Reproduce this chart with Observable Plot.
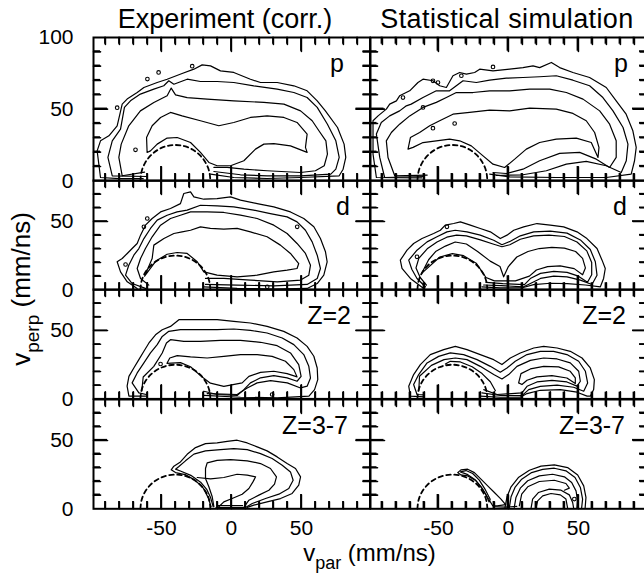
<!DOCTYPE html>
<html><head><meta charset="utf-8">
<script src="https://cdn.jsdelivr.net/npm/d3@7"></script>
<script src="https://cdn.jsdelivr.net/npm/@observablehq/plot@0.6"></script>
<style>
body{margin:0;background:#fff;}
#chart{position:relative;width:644px;height:574px;overflow:hidden;background:#fff;font-family:"Liberation Sans",Arial,Helvetica,sans-serif;}
#chart > svg{position:absolute;}
</style></head><body><div id="chart"></div>
<script>
// ---------- data ----------
const columnTitles = ["Experiment (corr.)", "Statistical simulation"];
const panelLabels = ["p", "d", "Z=2", "Z=3-7"];
const xMinorTicks = [-90,-80,-70,-60,-40,-30,-20,-10,10,20,30,40,60,70,80,90];
const xMajorTicks = [-50,0,50];
const yMinorTicks = [10,20,30,40,60,70,80,90];
const yMajorTicks = [50];
const xTickLabels = [-50,0,50];
const yTickLabelsTop = [0,50,100];
const yTickLabels = [0,50];

// dashed kinematic arc
const arcX = [-65,-64.15,-61.65,-57.68,-52.5,-46.47,-40,-33.53,-27.5,-22.32,-18.35,-15.85,-15];
const arcY = [0,6.47,12.5,17.68,21.65,24.15,25,24.15,21.65,17.68,12.5,6.47,0];

// contour polylines, flat [x,y,x,y,...] in (v_par, v_perp)
// --- p, experiment
const pExp1 = [-63,1.5,-80,1.5,-93.5,2.3,-95.9,20.9,-93.5,27.9,-87.5,31.4,-81.6,38.4,-78,53.5,-74.5,57,-67.3,61.6,-62.5,65.1,-53,68.6,-45.9,70.9,-35.2,74.9,-26.8,77.9,-20.9,80.9,-14.9,80.2,-7.8,76.7,1.7,75.6,13.6,70.9,20.8,68.6,32.7,68.6,44.6,66.3,54.1,62.8,61.3,55.8,67,49,75.8,37.2,80.5,25.6,81.7,16.3,79.8,8.1,77,3.5,49.4,2.3,25.5,1.6,1.7,2.3,-14.9,4.7];
const pExp2 = [-60,3,-85.1,3.5,-88.2,16.3,-85.1,27.9,-79.2,36,-76.4,51.2,-72.1,55.8,-65,60.5,-55.4,64,-48.3,66.3,-44.7,69.8,-41.1,67.4,-31.6,70.9,-22.1,69.3,-10.2,69.3,1.7,68.6,16,66.3,32.7,64,44.6,61.6,54.1,58.1,61.3,51.2,68.6,39.5,74.6,27.9,77,16.3,74.6,8.1,71,4.7,49.4,3.5,25.5,3.5,6.5,4.2,-12.5,6.5];
const pExp3 = [-62,6,-78,3.5,-80.4,16.3,-78.7,25.6,-73.3,38.4,-65,48.8,-55.4,54.7,-45.9,59.3,-43,64.7,-39.9,60,-31.6,58.1,-17.3,57,1.7,55.8,23.2,54.7,37.5,53.5,49.4,48.8,57.7,41.9,62.5,34.9,67.5,27.9,68.6,18.6,66.3,10.5,60,7,49.4,5.8,25.5,7,8.9,8.1,-3,9.3,-12.5,9.3];
const pExp4 = [-60.2,19.8,-60.6,30.2,-56.6,38.4,-50.6,44.2,-43.5,47.7,-35.2,45.3,-22.1,41.9,-9,38.4,1.7,40.7,13.6,44.2,25.5,45.3,37.5,44.2,46.9,40.7,54.1,32.6,52.9,23.3,54.1,19.8,42.2,24.4,30.3,26,23.2,25.6,17.2,22.1,8.9,14,-0.6,10.5,-10.2,10.5,-16.1,12.8,-22.1,19.8,-29.2,26.7,-38.7,30.2,-45.9,29.8,-53,25.6,-57.8,20.9,-60.2,19.8];
const pExpRings = [-68.5,21.6,-52,75.6,-81.6,51,-28,80,-60,71];
// --- p, simulation
const pSim1 = [-62,2,-94.3,2.3,-96.7,18.6,-96.7,41.9,-93.1,45.3,-87.2,50,-84.8,53.5,-80,55.8,-77.7,59.3,-70.5,62.8,-64.6,68.6,-61,70.9,-53.9,69.8,-49.1,66.3,-44.3,65.1,-39.6,73.3,-34.8,75.6,-30,74.4,-24.1,75.6,-20.5,77.9,-11,76.7,0.9,77.9,10.4,79,17.6,80.2,22.3,79,30.7,82.6,36.6,79,46.1,75.6,58,72.1,69.9,65.1,77,55.8,84.1,46.5,88.9,34.9,91.3,23.3,90.1,14,87.7,4.7,69.9,2.3,34.2,2.3,0.9,2.8,-13.4,4.7];
const pSim2 = [-60,3,-88.4,2.3,-91.9,16.3,-94.3,32.6,-90.8,40.7,-84.8,45.3,-77.7,48.8,-72.9,52.3,-69.4,53.5,-61,58.1,-51.5,62.8,-42,62.8,-37.2,66.3,-32.4,69.8,-22.9,68.6,-13.4,70.2,-1.5,71.6,10.4,72.1,22.3,72.6,34.2,73.3,46.1,70.2,58,66.3,67.5,58.1,74.7,48.8,81.9,37.2,85.4,25.6,84.2,14,80.6,5.8,69.9,10.5,55.6,13.5,41.4,11.6,27.1,7,10.4,4.2,-8.6,3.7];
const pSim3 = [-58,4,-81.2,3.5,-86,16.3,-87.2,27.9,-83.6,33.7,-77.7,39.5,-70.5,45.3,-61,51.2,-51.5,54.7,-44.3,58.1,-37.2,61.6,-25.3,61.6,-13.4,62.8,0.9,62.8,15.2,64,29.5,64,41.4,61.6,53.3,57,65.2,48.8,72.3,39.5,77,27.9,77,16.3,72.3,9.3,62.8,15.1,50.9,19.8,36.6,19.1,22.3,14,10.4,8.1,-1.5,5.1,-11,5.8];
const pSim4 = [-71.7,22.1,-70,30.2,-63.4,33.7,-56.2,38.4,-49.1,41.9,-39.6,46.5,-27.7,47.7,-13.4,49.3,0.9,48.8,15.2,50.7,34.2,50,46.1,47,55.6,41.9,61.6,33.7,64.7,23.3,64,16.3,59.2,26.7,48.5,29.8,34.2,29.1,22.3,26.7,12.8,22.1,4.5,15.1,-2.7,9.3,-11,11.6,-18.1,17.4,-26.5,24.4,-34.8,27.9,-42,29.1,-51.5,27.9,-61,26.7,-68.1,23.3,-71.7,22.1];
const pSimRings = [-75.3,58.1,-53.9,69.8,-50.3,68.6,-61,51.2,-38.4,40,-53.9,36.7,-33.6,73.3,-11,79.5];
// --- d, experiment
const dExp1 = [-67.3,1,-74.4,5.8,-79.2,13.1,-81.6,20.5,-78,22.9,-74.4,26.6,-70.9,30.2,-67.3,33.9,-64.9,40,-61.4,47.3,-56.6,52.2,-50.6,57,-43.5,59.5,-36.4,63.1,-34,70.5,-29.2,71.7,-26.8,68,-19.7,66.3,-10.2,66.8,-0.6,68,6.5,65.6,18.4,63.1,30.3,60.7,42.2,57,51.7,52.2,58.9,46.1,63.6,37.5,67.2,27.8,68.4,20.5,66,10.7,61.3,4.6,54.1,1,30.3,0.6,4.1,1,-19.7,2.2];
const dExp2 = [-61.4,1,-70.9,4.6,-75.6,10.7,-73.3,18,-69.7,25.3,-66.1,30.2,-62.5,37.5,-57.8,44.9,-53,51,-45.9,54.6,-38.8,57,-31.6,58.3,-22.1,61.9,-10.2,61.4,1.7,60.7,15.9,58.3,27.8,55.8,39.8,53.4,46.9,49.7,52.9,43.6,57.7,35.1,61.3,25.3,63.6,15.6,61.3,8.3,54.1,3.9,30.3,2.9,4.1,3.4,-18.5,3.9];
const dExp3 = [-59,3.4,-64.9,8.3,-67.3,15.6,-64.9,22.9,-61.4,30.2,-56.6,38.8,-50.6,47.3,-43.5,52.2,-36.4,54.6,-29.2,57,-17.3,57,-5.4,56.6,6.5,54.6,18.4,52.2,30.3,47.3,39.8,41.2,46.9,33.9,52.9,26.6,56.5,18,55.3,10.7,49.4,7.1,32.7,5.8,13.6,7.1,-5.4,8.3,-18.5,8.3];
const dExp4 = [-62,10,-56.6,22.9,-55.4,32.7,-48.2,37.5,-41.1,41.2,-35.2,42.4,-29.2,43.6,-22.1,46.1,-15,44.9,-5.4,44.4,4.1,44.9,13.6,42.4,25.5,38.8,35,32.7,42.2,26.6,48.1,19.2,46.9,15.6,39.8,14.4,30.3,13.1,18.4,10.7,4.1,9.5,-10.2,10.7,-19.7,13.1,-24.4,20.5,-31.6,26.6,-38.8,27.3,-45.9,26,-54,21,-62,10];
const dExpRings = [47,46.1,-60.1,52.2,-62.5,46.1,-75.6,18.5,25.6,2.2];
// --- d, simulation
const dSim1 = [-60.5,1,-70,8.3,-76,15.6,-77.2,21.7,-72.4,29,-67.7,33.9,-61.7,37.5,-53.4,41.2,-48.6,43.6,-45.1,47.3,-39.1,48.5,-34.3,49.7,-27.2,47.3,-20.1,44.9,-12.9,42.4,-5.8,37.5,-1,40,3.8,43.6,10.9,46.1,20.4,48.5,29.9,47.3,39.5,46.1,49,42.4,56.1,37.5,63.3,30.2,66.9,21.7,69.2,15.6,68,8.3,65.7,2.2,55,3.5,42,4.5,30,4.8,18,3.8,10,1.5,-5.8,1.4,-18.9,2.2];
const dSim2 = [-59.3,2.2,-65.3,8.3,-69,15,-71.2,21.7,-65.3,29,-58.1,35.1,-51,38.8,-43.9,42.4,-38,43.6,-29.6,42.4,-20.1,40,-10.5,36.3,-4.6,33,1.4,35.5,8.5,39.5,18.1,42.4,29.9,43,41.9,41.5,51.4,36.5,58.5,29.5,62.1,20.5,63.3,10.7,59.7,3.9,51.4,7.1,41.9,9.5,32.4,10,22.9,8.3,15.7,4.6,10.9,2.2,-5,3,-17.7,3.5];
const dSim3 = [-58.5,3.5,-63,9,-66,16,-64,23,-58,30,-51,35,-44,38.5,-37,40,-30,39.5,-20,36.5,-11,33.5,-4.6,31.5,1,33,8.5,37,18,39.5,29,40,40,39,49,35,56,28.5,59.5,20,59.5,11,56.5,5.5,50,10,41.9,12.8,32.4,13.5,22.9,12,16,8.5,11.5,3.8,-4,4.5,-16,5.5];
const dSim4 = [-62,12,-57,22,-52,28,-45,32,-38,35,-30,33.5,-22,28,-13,21,-6,17,-3.4,9.5,0,17,6,24,14,28,22,30.2,31,31,40,30.5,48,28,53,23,55,16,53,11,47,15.5,37,17.5,28,17,20,14.5,15,10,5,6.5,-10,6.5,-16,9,-23,19.5,-32,25,-40,26.5,-49,24,-62,12];
const dSimRings = [-43.9,46.1,-65.3,24.1];
// --- Z=2, experiment
const zExp1 = [-60,2,-73.2,2,-74.5,9.3,-73.2,16.5,-69.7,22.6,-66.1,28.7,-62.5,34.8,-58.9,40.9,-54.2,46.9,-49.4,50.6,-43.5,53,-37.5,57.9,-31.6,57.9,-22.1,57.9,-10.2,57.9,1.7,56.7,13.6,55.5,25.5,53,37.4,49.4,46.9,44.5,54.1,38.4,58.9,31.2,61.3,22.6,61.7,14.1,59.4,6.8,55.4,2,32.7,0.8,6.5,1.2,-19.7,2.5];
const zExp2 = [-60,3,-66.1,4.4,-70.9,11.7,-67.3,19,-62.5,26.3,-57.8,33.6,-53,39.7,-49.4,45.7,-44.7,49.4,-36.4,50.6,-24.4,50.6,-10.2,50.6,1.7,51.1,13.6,50.1,25.5,48.2,36.3,44.5,44.6,39.7,51.7,32.4,55.3,23.8,56.5,15.3,54.1,9.3,49.4,8,39.9,11.7,28,13.4,18.4,11.7,11.3,8,4.1,3.2,-17.3,3.9];
const zExp3 = [-64,6,-63,16,-55.4,23.8,-49.4,33.6,-46.4,40.9,-43.5,43.3,-34,42.1,-22.1,42.1,-7.8,42.8,6.5,42.8,20.8,41.4,32.7,38.9,42.2,33.6,48.1,25.1,49.8,16.5,46.9,12.9,39.8,15.4,30.3,17,20.8,15.4,13.6,11.7,8.9,6.8,4.1,2.5,-10.2,3.2,-19.7,5.6];
const zExp4 = [-46,26,-44,29.9,-38.7,31.6,-29.2,30.7,-17.3,29.9,-5.4,31.1,6.5,32.4,18.4,32.4,29.1,31.1,38.6,27.5,44.6,21.4,46.9,16.1,39.8,18.5,30.3,20.2,20.8,19.4,12.5,16.5,7.7,11.7,-5.4,9.2,-15,11.5,-22.1,17,-29.2,23.5,-36.4,26.5,-46,26];
const zExpRings = [-50.6,25.5,29.1,3.2];
// --- Z=2, simulation
const zSim1 = [-60,1.5,-70,2,-71.2,9.3,-67.7,17.8,-62.9,25.1,-55.8,32.4,-46.2,36,-37.9,38.4,-29.6,36,-20.1,32.4,-10.5,28.7,-4.6,25.1,1.4,29.9,8.5,33.6,18.1,37.2,25.2,38.4,34.8,37.2,44.2,34.8,52.6,29.9,58.5,22.6,61.4,14.1,60.9,6.8,58.5,2,56.2,2,49,4.9,37.1,6.8,22.8,6.3,13.3,3.9,8.5,1.2,-5.8,1.2,-20.1,2];
const zSim2 = [-60,3,-65.3,3.2,-67.7,10.5,-64.1,17.8,-58.1,26.3,-49.8,31.1,-41.5,33.6,-32,32.4,-22.4,28.7,-12.9,23.8,-5.8,19.5,-1,22.6,4.9,27.5,13.3,32.4,22.8,34.8,32.3,34.8,41.8,32.4,50.2,27.5,55,20.2,56.6,11.7,53.8,5.6,46.6,8.5,34.8,10,22.8,9.2,14.5,6.8,9.7,2.4,-5.8,2.5,-18.9,4.4];
const zSim3 = [-64,6,-63.5,16.6,-55,24.5,-46,28.7,-37.9,29.9,-29.6,28.7,-20.1,23.8,-10.5,17.8,-4.6,14.6,0.2,17.8,6.1,23.8,15.7,28.2,25.2,29.9,34.8,29.2,44.2,26.3,50.2,20.2,51.4,12.9,49,9.3,41.8,12.4,31.1,13.6,20.4,12.4,13.3,9.2,9.7,4.4,-8.1,3.2,-17.6,6.8];
const zSim4 = [7.3,11.7,9,18.5,15.7,21.9,25.2,23.8,35.9,23.4,44.2,20.2,47.8,15.3,47.8,11.2,41.8,15.3,31.1,17,20.4,16.1,13.3,13.6,9.7,10.5,7.3,11.7];
const zSim5 = [-45,25.5,-41.5,27.5,-34.3,27,-25.9,23.5,-18.8,18.5,-12.9,12.5,-9.3,6];
const zSimRings = [];
// --- Z=3-7, experiment
const hExp1 = [-14.5,1.5,-16.5,8,-20,15,-26,21,-33,25,-39.9,26.5,-43,28.5,-41.1,31.2,-36.4,34.3,-31.6,39.9,-25.6,44.8,-18.5,47.7,-10.2,48.2,-3,49.4,4.1,50.2,11.3,48.2,18.4,45.3,25.5,42.4,32.7,38,39.8,33.1,45.8,29.5,49.4,23.4,48.1,17.3,43.4,11.2,35.1,7.5,25.5,5.1,16,2.7,11.3,1];
const hExp2 = [-13,1.5,-14.8,8,-17.5,14,-22,19.5,-29,24.5,-36,27.5,-39.9,29,-37.5,31,-32.8,35.1,-26.8,40,-18.5,42.4,-7.8,43.3,1.7,44.1,11.3,43.3,20.8,40.4,29.1,36.8,36.3,31.9,42.2,27,44.1,20.9,41,14.9,33.9,10.7,24.4,7.5,14.9,3.9,10.1,1];
const hExp3 = [-12.5,1.5,-13.7,8.8,-16.1,16.1,-18.5,22.2,-18.5,29.5,-17.3,33.6,-10.2,35.5,-0.6,36,11.3,35.1,20.8,33.1,27.9,29.5,32.2,23.4,30.8,18,26.8,13.6,19.6,10,12.5,6.3,8.9,1];
const hExp4 = [-24.4,22.9,-14.9,21.9,-5.4,22.9,4.1,25.3,11.3,24.6,17.3,23.4,15.4,19.7,12.5,14.9,7.7,10.7,0.5,7.5,-5.4,5.1,-9,1.5];
const hExp5 = [-11,0.8,9,0.8];
const hExp6 = [-10,2.3,8,2.3];
const hExpRings = [];
// --- Z=3-7, simulation
const hSim1 = [-36.2,26.5,-33.9,28.5,-29.1,29,-24.3,26.5,-19.6,21.7,-14.8,16.8,-10,11.9,-5.3,7.1,-2,3,-8,2.2,-11.2,2.2,-14.8,8.3,-18.4,14.4,-23.1,20.5,-29.1,24.1,-33.9,24.8,-36.2,26.5];
const hSim2 = [-34.3,27,-30.3,28,-25.5,25.8,-20.8,21,-16.5,14,-13,7,-13.8,5,-16.2,10.5,-19.5,16,-24,21.5,-29,25,-34.3,27];
const hSim3 = [-10,1.5,-2,1.2,6,1.8];
const hSim4 = [-2.4,1,-1,8.8,1.9,16.1,7.1,22.9,15,28.2,23.3,31.2,32.8,32.1,42.3,30.2,49.5,24.8,53.8,16.8,55.4,8.3,54.8,0.5];
const hSim5 = [0.7,1,1.9,8.8,4.7,15.6,9.5,21.7,16.6,26.5,24.5,28.9,32.8,29.7,41.1,27.8,47.6,22.9,51.4,15.6,53,7.1,52.3,0.5];
const hSim6 = [4.2,1,5.4,8.3,8.5,15.1,13.8,20.5,22.1,24.1,31.6,25.3,40,23.4,45.2,19.2,48.3,13.1,49.5,5.8,49,0.5];
const hSim7 = [7.8,2.2,9.5,10.7,13.8,16.1,22.1,20,32.8,20.9,41.1,18.5,43.5,15.1,40,13.6];
const hSim8 = [16.2,0.5,17.3,7.1,21.4,11.9,29.2,14.4,37.6,13.6,43.5,10.2,45.9,4.6,46.6,0.5];
const hSim9 = [19.7,0.5,20.9,5.8,24.5,9.5,30.4,11.2,37.1,10.2,41.1,7.1,42.3,0.5];
const hSimRings = [47.1,7.1];

// ---------- layout ----------
const W = 276.5;
const colX = [93, 369.5];
const rowY = [36.7, 180, 289.3, 398.7];
const rowH = [143.3, 109.3, 109.4, 109.3];
const yMax = [100, 80, 80, 80];
const xDomain = [-98.5, 99];
const FONT = '"Liberation Sans", Arial, Helvetica, sans-serif';

const panels = [
  {row:0,col:0,contours:[pExp1,pExp2,pExp3,pExp4],rings:pExpRings,dx:-26},
  {row:0,col:1,contours:[pSim1,pSim2,pSim3,pSim4],rings:pSimRings,dx:-19},
  {row:1,col:0,contours:[dExp1,dExp2,dExp3,dExp4],rings:dExpRings,dx:-20},
  {row:1,col:1,contours:[dSim1,dSim2,dSim3,dSim4],rings:dSimRings,dx:-20},
  {row:2,col:0,contours:[zExp1,zExp2,zExp3,zExp4],rings:zExpRings,dx:-19},
  {row:2,col:1,contours:[zSim1,zSim2,zSim3,zSim4,zSim5],rings:zSimRings,dx:-21},
  {row:3,col:0,contours:[hExp1,hExp2,hExp3,hExp4,hExp5,hExp6],rings:hExpRings,dx:-22},
  {row:3,col:1,contours:[hSim1,hSim2,hSim3,hSim4,hSim5,hSim6,hSim7,hSim8,hSim9],rings:hSimRings,dx:-22}
];

const chart = document.getElementById("chart");

// titles and axis labels (drawn first, underneath the panels)
const ov = d3.select("#chart").append("svg")
  .attr("width", 644).attr("height", 574)
  .style("position", "absolute").style("left", "0px").style("top", "0px")
  .style("font-family", FONT);
ov.append("text").attr("x", 225).attr("y", 28).attr("text-anchor", "middle").attr("font-size", 27).text(columnTitles[0]);
ov.append("text").attr("x", 507).attr("y", 28).attr("text-anchor", "middle").attr("font-size", 27).attr("letter-spacing", 0.4).text(columnTitles[1]);
const xl = ov.append("text").attr("x", 369.5).attr("y", 561).attr("text-anchor", "middle").attr("font-size", 24);
xl.append("tspan").text("v");
xl.append("tspan").attr("font-size", 18).attr("dy", 8).text("par");
xl.append("tspan").attr("dy", -8).text(" (mm/ns)");
const yl = ov.append("text").attr("transform", "translate(30,289) rotate(-90)").attr("text-anchor", "middle").attr("font-size", 26);
yl.append("tspan").text("v");
yl.append("tspan").attr("font-size", 19).attr("dy", 9).text("perp");
yl.append("tspan").attr("dy", -9).text(" (mm/ns)");

const toPts = arr => { const out = []; for (let k = 0; k < arr.length; k += 2) out.push({x: arr[k], y: arr[k+1]}); return out; };
const tickRecords = [];

panels.forEach(p => {
  const mL = p.col === 0 ? 93 : 0, mR = 0, mT = 0, mB = p.row === 3 ? 30 : 0;
  const ym = yMax[p.row];
  const H = rowH[p.row];
  const lines = [];
  p.contours.forEach((arr, i) => toPts(arr).forEach(d => lines.push({...d, id: i})));
  const arc = arcX.map((x, i) => ({x, y: arcY[i]}));
  const rings = toPts(p.rings);

  const pxPerX = W / (xDomain[1] - xDomain[0]);
  const pxPerY = H / ym;
  const xt = xMinorTicks.map(v => [v, 7]).concat(xMajorTicks.map(v => [v, 14]));
  const yt = yMinorTicks.filter(v => v < ym).map(v => [v, 7]).concat(yMajorTicks.map(v => [v, 14]));
  const tickSegs = [];
  let tid = 0;
  xt.forEach(([v, L]) => {
    tickSegs.push({x: v, y: 0, id: tid}, {x: v, y: L / pxPerY, id: tid}); tid++;
    tickSegs.push({x: v, y: ym, id: tid}, {x: v, y: ym - L / pxPerY, id: tid}); tid++;
  });
  yt.forEach(([v, L]) => {
    tickSegs.push({x: xDomain[0], y: v, id: tid}, {x: xDomain[0] + L / pxPerX, y: v, id: tid}); tid++;
    tickSegs.push({x: xDomain[1], y: v, id: tid}, {x: xDomain[1] - L / pxPerX, y: v, id: tid}); tid++;
  });

  const marks = [
    Plot.line(arc, {x: "x", y: "y", stroke: "black", strokeWidth: 1.8, strokeDasharray: "4.5,3.5", curve: "natural"}),
    Plot.line(lines, {x: "x", y: "y", z: "id", stroke: "black", strokeWidth: 1.2, strokeLinejoin: "round"}),
    Plot.dot(rings, {x: "x", y: "y", r: 1.8, stroke: "black", strokeWidth: 1.1, fill: "none"}),
    Plot.line(tickSegs, {x: "x", y: "y", z: "id", stroke: "black", strokeWidth: 1.6}),
    Plot.frame({stroke: "black", strokeWidth: 2}),
    Plot.text([panelLabels[p.row]], {text: d => d, frameAnchor: "top-right", textAnchor: "end", dx: p.dx, dy: 26.7, fontSize: 25, lineAnchor: "middle", fill: "black"})
  ];
  if (p.col === 0) marks.push(Plot.axisY({anchor: "left", ticks: p.row === 0 ? yTickLabelsTop : yTickLabels, tickSize: 0, tickPadding: 20, fontSize: 21, tickFormat: d => String(d), label: null}));
  if (p.row === 3) marks.push(Plot.axisX({anchor: "bottom", ticks: xTickLabels, tickSize: 0, tickPadding: 11, fontSize: 21, tickFormat: d => String(d), label: null}));
  const svg = Plot.plot({
    width: W + mL + mR, height: H + mT + mB,
    marginLeft: mL, marginRight: mR, marginTop: mT, marginBottom: mB,
    x: {domain: xDomain, axis: null}, y: {domain: [0, ym], axis: null},
    style: {background: "transparent", overflow: "visible", fontFamily: FONT, color: "black"},
    marks
  });
  const offX = colX[p.col] - mL, offY = rowY[p.row] - mT;
  svg.style.position = "absolute";
  svg.style.left = offX + "px";
  svg.style.top = offY + "px";
  svg.style.maxWidth = "none";
  svg.style.background = "transparent";
  chart.appendChild(svg);

  // page positions of the ticks, taken from this plot's own scales
  let sx = null, sy = null;
  try { sx = svg.scale("x"); sy = svg.scale("y"); } catch (e) {}
  const fx = v => { const a = sx && sx.apply ? sx.apply(v) : NaN; return Number.isFinite(a) ? offX + a : colX[p.col] + (v - xDomain[0]) * pxPerX; };
  const fy = v => { const a = sy && sy.apply ? sy.apply(v) : NaN; return Number.isFinite(a) ? offY + a : rowY[p.row] + (ym - v) * pxPerY; };
  const left = fx(xDomain[0]), right = fx(xDomain[1]), bottom = fy(0), top = fy(ym);
  xt.forEach(([v, L]) => {
    const px = fx(v);
    tickRecords.push([px, bottom, px, bottom - L], [px, top, px, top + L]);
  });
  yt.forEach(([v, L]) => {
    const py = fy(v);
    tickRecords.push([left, py, left + L, py], [right, py, right - L, py]);
  });
});

// tick layer on top of all panels
const tl = d3.select("#chart").append("svg")
  .attr("width", 644).attr("height", 574)
  .style("position", "absolute").style("left", "0px").style("top", "0px")
  .style("pointer-events", "none");
tl.append("g").attr("stroke", "#000").attr("stroke-width", 1.6).attr("fill", "none")
  .selectAll("line").data(tickRecords).join("line")
  .attr("x1", d => d[0]).attr("y1", d => d[1]).attr("x2", d => d[2]).attr("y2", d => d[3]);
</script></body></html>
